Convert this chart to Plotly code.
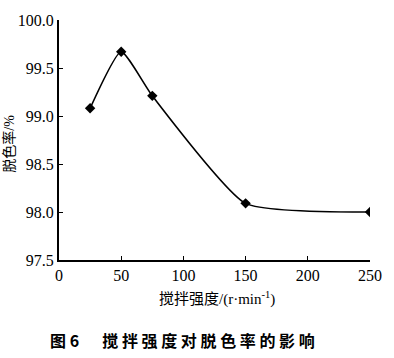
import plotly.graph_objects as go

speed = [25, 50, 75, 150, 250]
decolor = [99.08, 99.67, 99.21, 98.09, 98.00]
x_ticks = [0, 50, 100, 150, 200, 250]
y_ticks = [97.5, 98.0, 98.5, 99.0, 99.5, 100.0]
y_labels = ["97.5", "98.0", "98.5", "99.0", "99.5", "100.0"]

serif = "'Liberation Serif', 'Times New Roman', serif"
mixed = "'Liberation Serif', 'Noto Sans CJK SC'"
cjk = "Noto Sans CJK SC"

fig = go.Figure()
fig.add_trace(go.Scatter(
    x=speed, y=decolor, mode="lines+markers",
    line=dict(color="black", width=1.6, shape="spline", smoothing=0.5),
    marker=dict(symbol="diamond", size=8, color="black"),
    showlegend=False,
))

fig.update_layout(
    width=394, height=358,
    margin=dict(l=59, r=20, t=20, b=98),
    paper_bgcolor="white", plot_bgcolor="white",
    font=dict(family=serif, size=15, color="black"),
    xaxis=dict(range=[0, 250], tickvals=x_ticks, ticks="inside", ticklen=4,
               tickcolor="black", showline=True, linecolor="black", linewidth=2,
               showgrid=False, zeroline=False, tickfont=dict(size=16, family=serif)),
    yaxis=dict(range=[97.5, 100.0], tickvals=y_ticks, ticktext=y_labels,
               ticks="inside", ticklen=4, tickcolor="black", showline=True,
               linecolor="black", linewidth=2, showgrid=False, zeroline=False,
               tickfont=dict(size=16, family=serif)),
)

fig.add_annotation(text="搅拌强度/(r·min<sup>-1</sup>)", xref="paper", yref="paper",
                   x=(219 - 59) / 315, y=-(298 - 260) / 240, showarrow=False,
                   xanchor="center", yanchor="middle",
                   font=dict(family=mixed, size=15, color="black"))
fig.add_annotation(text="脱色率/%", xref="paper", yref="paper",
                   x=-(59 - 8) / 315, y=1 - (144 - 20) / 240, showarrow=False, textangle=-90,
                   xanchor="center", yanchor="middle",
                   font=dict(family=mixed, size=14, color="black"))
fig.add_annotation(text="<b>图 6　  搅 拌 强 度 对 脱 色 率 的 影 响</b>", xref="paper", yref="paper",
                   x=(184 - 59) / 315, y=-(340 - 260) / 240, showarrow=False,
                   xanchor="center", yanchor="middle",
                   font=dict(family=cjk, size=16, color="black"))

fig.write_html("out.html", config={"displayModeBar": False},
               post_script="document.body.style.margin='0';")
